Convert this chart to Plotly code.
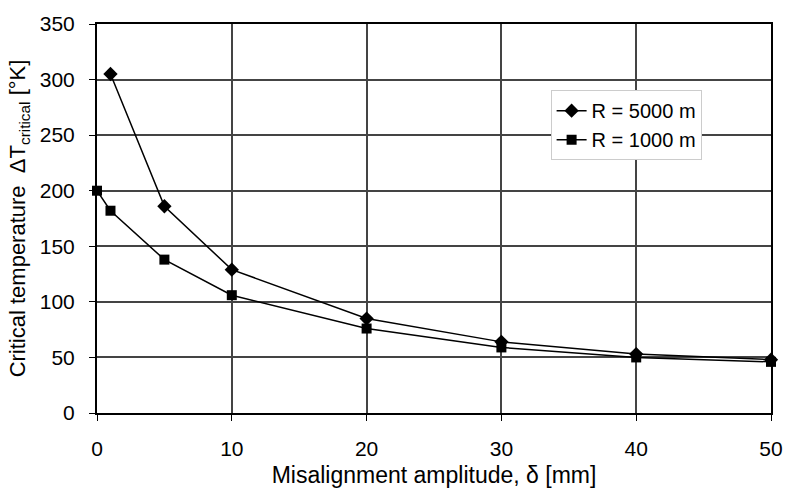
import plotly.graph_objects as go

x_5000 = [1, 5, 10, 20, 30, 40, 50]
y_5000 = [305, 186, 129, 85, 64, 53, 48]
x_1000 = [0, 1, 5, 10, 20, 30, 40, 50]
y_1000 = [200, 182, 138, 106, 76, 59, 50, 46]

fig = go.Figure()
fig.add_trace(go.Scatter(x=x_5000, y=y_5000, mode="lines+markers", name="R = 5000 m",
                         line=dict(color="black", width=1.5),
                         marker=dict(symbol="diamond", size=11, color="black"), cliponaxis=False))
fig.add_trace(go.Scatter(x=x_1000, y=y_1000, mode="lines+markers", name="R = 1000 m",
                         line=dict(color="black", width=1.5),
                         marker=dict(symbol="square", size=10, color="black"), cliponaxis=False))

font = "Liberation Sans, Arial, sans-serif"
fig.update_layout(
    width=795, height=496,
    margin=dict(l=97, r=15, t=14, b=82),
    paper_bgcolor="white", plot_bgcolor="white",
    font=dict(family=font, size=20, color="black"),
    showlegend=True,
    legend=dict(x=0.673, y=0.83, xanchor="left", yanchor="top",
                bgcolor="white", bordercolor="#cccccc", borderwidth=1,
                font=dict(size=20)),
    xaxis=dict(range=[0, 50], tickvals=[0, 10, 20, 30, 40, 50],
               showgrid=True, gridcolor="#444444", gridwidth=2,
               showline=True, linecolor="black", linewidth=2, mirror=True,
               ticks="outside", ticklen=6, tickcolor="black", tickwidth=1,
               ticklabelstandoff=10,
               zeroline=False,
               title=dict(text="Misalignment amplitude, δ [mm]", font=dict(size=23), standoff=8),
               tickfont=dict(size=21)),
    yaxis=dict(range=[0, 350], tickvals=[0, 50, 100, 150, 200, 250, 300, 350],
               showgrid=True, gridcolor="#444444", gridwidth=2,
               showline=True, linecolor="black", linewidth=2, mirror=True,
               ticks="outside", ticklen=6, tickcolor="black", tickwidth=1,
               ticklabelstandoff=10,
               zeroline=False,
               title=dict(text="Critical temperature  ΔT<sub>critical</sub> [°K]", font=dict(size=22), standoff=8),
               tickfont=dict(size=21)),
)
fig.write_html("out.html")
